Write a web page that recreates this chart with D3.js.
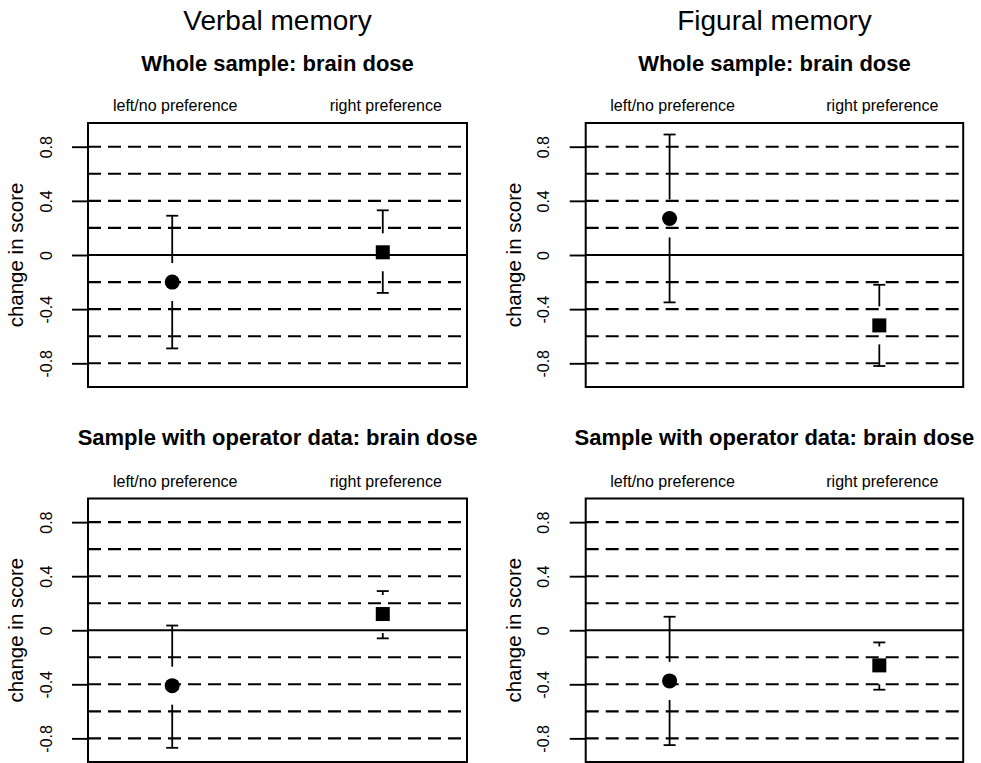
<!DOCTYPE html>
<html><head><meta charset="utf-8">
<script src="https://cdn.jsdelivr.net/npm/d3@7"></script>
<style>body{margin:0;background:#fff} svg{display:block}</style>
</head><body>
<svg id="chart" width="981" height="763"></svg>
<script>
// ---------- data ----------
const categories = ["left/no preference", "right preference"];
const xPositions = [1, 2];
const columnTitles = ["Verbal memory", "Figural memory"];
const rowTitles = ["Whole sample: brain dose", "Sample with operator data: brain dose"];
const yLabel = "change in score";

const verbalWholeMean  = [-0.20, 0.02];
const verbalWholeLower = [-0.69, -0.28];
const verbalWholeUpper = [0.29, 0.33];

const figuralWholeMean  = [0.27, -0.52];
const figuralWholeLower = [-0.35, -0.82];
const figuralWholeUpper = [0.89, -0.22];

const verbalOperatorMean  = [-0.41, 0.12];
const verbalOperatorLower = [-0.87, -0.06];
const verbalOperatorUpper = [0.035, 0.29];

const figuralOperatorMean  = [-0.375, -0.26];
const figuralOperatorLower = [-0.85, -0.44];
const figuralOperatorUpper = [0.10, -0.09];

const yTicks = [0.8, 0.4, 0, -0.4, -0.8];
const yTickLabels = ["0.8", "0.4", "0", "-0.4", "-0.8"];
const gridLines = [0.8, 0.6, 0.4, 0.2, -0.2, -0.4, -0.6, -0.8];
const yDomain = [-0.975, 0.975];
const xDomain = [0.6, 2.4];

// ---------- layout ----------
const FONT = "'Liberation Sans', Arial, Helvetica, sans-serif";
const svg = d3.select("#chart");
const colX = [{x0: 88, w: 379}, {x0: 585.7, w: 377.5}];
const rowY = [{y0: 123, h: 264, titleY: 70.7, labY: 110.7}, {y0: 498.5, h: 263.5, titleY: 445, labY: 487}];

const panels = [
  {col: 0, row: 0, mean: verbalWholeMean, lower: verbalWholeLower, upper: verbalWholeUpper},
  {col: 1, row: 0, mean: figuralWholeMean, lower: figuralWholeLower, upper: figuralWholeUpper},
  {col: 0, row: 1, mean: verbalOperatorMean, lower: verbalOperatorLower, upper: verbalOperatorUpper},
  {col: 1, row: 1, mean: figuralOperatorMean, lower: figuralOperatorLower, upper: figuralOperatorUpper}
];

// column titles
columnTitles.forEach((t, i) => {
  svg.append("text")
    .attr("x", colX[i].x0 + colX[i].w / 2).attr("y", 30)
    .attr("text-anchor", "middle")
    .style("font-family", FONT).style("font-size", "28px")
    .text(t);
});

const GAP = 19, CAP = 6;

panels.forEach(p => {
  const c = colX[p.col], r = rowY[p.row];
  const x = d3.scaleLinear().domain(xDomain).range([c.x0, c.x0 + c.w]);
  const y = d3.scaleLinear().domain(yDomain).range([r.y0 + r.h, r.y0]);
  const g = svg.append("g");

  // row title
  g.append("text")
    .attr("x", c.x0 + c.w / 2).attr("y", r.titleY)
    .attr("text-anchor", "middle")
    .style("font-family", FONT).style("font-size", "22px").style("font-weight", "bold")
    .text(rowTitles[p.row]);

  // category labels
  g.selectAll(".cat").data(categories).join("text")
    .attr("x", (d, i) => x(xPositions[i]) + 3).attr("y", r.labY)
    .attr("text-anchor", "middle")
    .style("font-family", FONT).style("font-size", "16px")
    .text(d => d);

  // grid lines
  g.selectAll(".grid").data(gridLines).join("line")
    .attr("x1", c.x0).attr("x2", c.x0 + c.w)
    .attr("y1", d => y(d)).attr("y2", d => y(d))
    .attr("stroke", "#000").attr("stroke-width", 2.1)
    .attr("stroke-dasharray", "13,7");

  // zero line
  g.append("line")
    .attr("x1", c.x0).attr("x2", c.x0 + c.w)
    .attr("y1", y(0)).attr("y2", y(0))
    .attr("stroke", "#000").attr("stroke-width", 1.9);

  // y axis
  const axis = d3.axisLeft(y).tickValues(yTicks)
    .tickFormat((d, i) => yTickLabels[i]).tickSize(16);
  const ag = g.append("g").attr("transform", `translate(${c.x0},0)`).call(axis);
  ag.select(".domain").remove();
  ag.selectAll(".tick line").attr("stroke", "#000").attr("stroke-width", 1.9);
  ag.selectAll(".tick text")
    .attr("transform", "rotate(-90)")
    .attr("x", 0).attr("y", -36.5).attr("dy", 0)
    .attr("text-anchor", "middle")
    .attr("fill", "#000")
    .style("font-family", FONT).style("font-size", "16px");

  // y label
  const ly = (r.y0 + r.h / 2);
  const lx = c.x0 - 65;
  g.append("text")
    .attr("transform", `translate(${lx},${ly}) rotate(-90)`)
    .attr("text-anchor", "middle")
    .style("font-family", FONT).style("font-size", "20.5px")
    .text(yLabel);

  // box
  g.append("rect")
    .attr("x", c.x0).attr("y", r.y0).attr("width", c.w).attr("height", r.h)
    .attr("fill", "none").attr("stroke", "#000").attr("stroke-width", 2);

  // error bars
  xPositions.forEach((xv, i) => {
    const cx = x(xv), cy = y(p.mean[i]);
    const yu = y(p.upper[i]), yl = y(p.lower[i]);
    const eb = g.append("g").attr("stroke", "#000").attr("stroke-width", 1.8);
    if (cy - GAP > yu) eb.append("line").attr("x1", cx).attr("x2", cx).attr("y1", yu).attr("y2", cy - GAP);
    if (cy + GAP < yl) eb.append("line").attr("x1", cx).attr("x2", cx).attr("y1", cy + GAP).attr("y2", yl);
    eb.append("line").attr("x1", cx - CAP).attr("x2", cx + CAP).attr("y1", yu).attr("y2", yu);
    eb.append("line").attr("x1", cx - CAP).attr("x2", cx + CAP).attr("y1", yl).attr("y2", yl);
    if (i === 0) {
      g.append("circle").attr("cx", cx).attr("cy", cy).attr("r", 7.5).attr("fill", "#000");
    } else {
      g.append("rect").attr("x", cx - 7).attr("y", cy - 7).attr("width", 14).attr("height", 14).attr("fill", "#000");
    }
  });
});
</script>
</body></html>
